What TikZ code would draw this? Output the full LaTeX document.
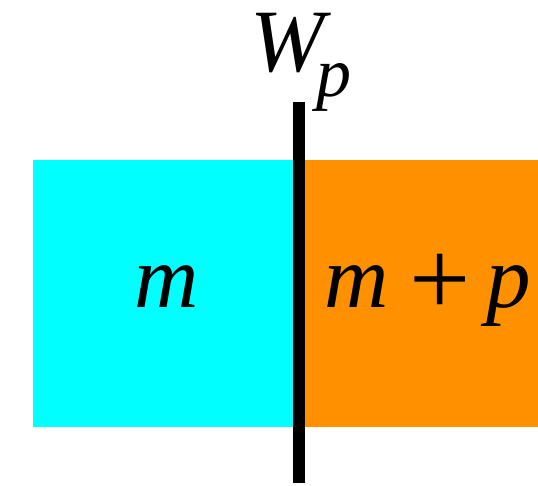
\documentclass[tikz,border=0pt]{standalone}
\usepackage{fontspec}
\usepackage{graphicx}
\setmainfont{Liberation Serif}
\definecolor{cy}{RGB}{0,255,255}
\definecolor{orng}{RGB}{255,145,0}
\begin{document}
\begin{tikzpicture}[x=1pt,y=1pt,
  lbl/.style={inner sep=0pt,font=\fontsize{89}{95}\selectfont},
  sub/.style={inner sep=0pt,font=\fontsize{70}{75}\selectfont}]
\useasboundingbox (0,0) rectangle (538,485);
\fill[cy] (33,58) rectangle (300,325);
\fill[orng] (300,58) rectangle (538,325);
\coordinate (top) at (299,383);
\coordinate (bot) at (299,2);
\draw[line width=12pt] (bot) -- (top);
\node[lbl,anchor=base] (m) at (167,177) {\textit{m}};
\node[lbl,anchor=base west] (m2) at (324,177) {\textit{m}};
\node[lbl] (plus) at (440,200) {\scalebox{1.22}{+}};
\node[lbl,anchor=base west] (p2) at (486,177) {\textit{p}};
\node[lbl,anchor=base] (w) at (291,413) {\textit{W}};
\node[sub,anchor=base west] (p) at (316,388) {\textit{p}};
\end{tikzpicture}
\end{document}
